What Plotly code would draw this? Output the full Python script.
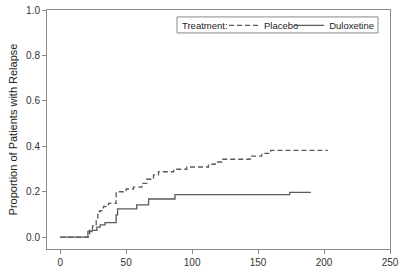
import plotly.graph_objects as go

placebo_t = [0, 22.3, 24.5, 27.3, 28.5, 30.3, 32.8, 36.6, 42.4, 50, 55.5, 61.9, 65.6, 70.7, 74.5, 86, 96,
             112.4, 117.4, 122.5, 143.9, 152.8, 159.6, 202.8]
placebo_p = [0, 0.032, 0.05, 0.076, 0.113, 0.117, 0.135, 0.149, 0.2, 0.212, 0.22, 0.237, 0.255, 0.274, 0.288,
             0.299, 0.309, 0.321, 0.331, 0.343, 0.357, 0.369, 0.382, 0.382]

dulox_t = [0, 21, 24, 27.8, 30.3, 34, 42.4, 43.5, 58, 67, 87, 174, 190]
dulox_p = [0, 0.025, 0.03, 0.044, 0.054, 0.064, 0.098, 0.125, 0.142, 0.168, 0.187, 0.197, 0.197]

x_ticks = [0, 50, 100, 150, 200, 250]
y_ticks = [0.0, 0.2, 0.4, 0.6, 0.8, 1.0]
y_labels = ["0.0", "0.2", "0.4", "0.6", "0.8", "1.0"]

line_col = "#5a5a5a"
axis_col = "#8a8a8a"
font = "Liberation Sans, Arial, sans-serif"

fig = go.Figure()
fig.add_trace(go.Scatter(x=placebo_t, y=placebo_p, mode="lines", name="Placebo", legend="legend",
                         line=dict(shape="hv", color=line_col, width=1.3, dash="5px,3px")))
fig.add_trace(go.Scatter(x=dulox_t, y=dulox_p, mode="lines", name="Duloxetine", legend="legend2",
                         line=dict(shape="hv", color=line_col, width=1.3)))

# legend frame (decoration) and title
fig.add_shape(type="rect", xref="paper", yref="paper", x0=0.379, x1=0.965, y0=0.904, y1=0.971,
              line=dict(color=axis_col, width=1), fillcolor="white", layer="below")
fig.add_annotation(text="Treatment:", xref="paper", yref="paper", x=0.388, y=0.937,
                   xanchor="left", yanchor="middle", showarrow=False,
                   font=dict(size=9.5, color="#222"))

leg_common = dict(orientation="h", yanchor="top", xanchor="left", y=0.996,
                  font=dict(size=9.5, color="#222"), borderwidth=0,
                  bgcolor="rgba(0,0,0,0)", itemwidth=30)

fig.update_layout(
    width=400, height=272,
    margin=dict(l=47, r=10, t=10, b=23, autoexpand=False),
    paper_bgcolor="white", plot_bgcolor="white",
    font=dict(family=font, size=10, color="#333333"),
    showlegend=True,
    legend=dict(x=0.516, **leg_common),
    legend2=dict(x=0.706, **leg_common),
)
fig.update_xaxes(range=[-10, 250], tickvals=x_ticks, ticks="outside", ticklen=4,
                 tickcolor=axis_col, showline=True, linecolor=axis_col, linewidth=1,
                 mirror=True, showgrid=False, zeroline=False,
                 tickfont=dict(size=10, color="#333"))
fig.update_yaxes(range=[-0.052, 1.0], tickvals=y_ticks, ticktext=y_labels, ticks="outside",
                 ticklen=4, tickcolor=axis_col, showline=True, linecolor=axis_col, linewidth=1,
                 mirror=True, showgrid=False, zeroline=False,
                 tickfont=dict(size=10, color="#333"),
                 title=dict(text="Proportion of Patients with Relapse", font=dict(size=11, color="#222"),
                            standoff=6))

fig.write_html("out.html")
